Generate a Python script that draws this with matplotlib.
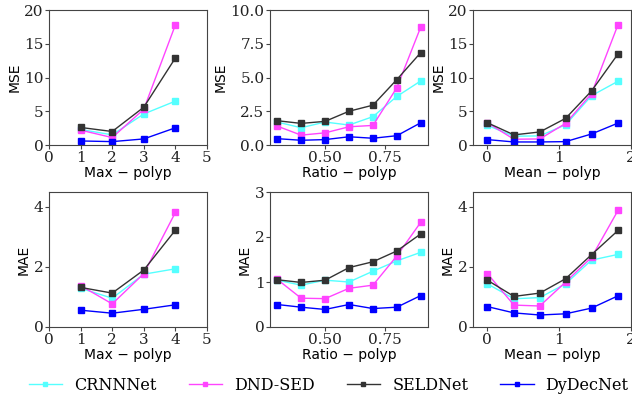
import matplotlib.pyplot as plt

# Data
max_x = [1, 2, 3, 4]
ratio_x = [0.3, 0.4, 0.5, 0.6, 0.7, 0.8, 0.9]
mean_x = [0, 0.37, 0.73, 1.09, 1.45, 1.82]

names = ["CRNNNet", "DND-SED", "SELDNet", "DyDecNet"]
colors = ["#55ffff", "#ff44ff", "#333333", "#0000ff"]

mse_max = [
    [2.3, 1.5, 4.6, 6.5],
    [2.2, 1.1, 5.3, 17.8],
    [2.6, 2.0, 5.6, 12.9],
    [0.6, 0.5, 0.9, 2.55],
]
mse_ratio = [
    [1.7, 1.28, 1.7, 1.48, 2.1, 3.6, 4.75],
    [1.4, 0.73, 0.9, 1.35, 1.45, 4.25, 8.75],
    [1.8, 1.6, 1.75, 2.5, 2.95, 4.85, 6.85],
    [0.47, 0.35, 0.4, 0.61, 0.5, 0.69, 1.65],
]
mse_mean = [
    [2.9, 1.3, 1.35, 3.0, 7.3, 9.45],
    [3.3, 0.85, 0.9, 3.2, 7.6, 17.85],
    [3.3, 1.5, 1.93, 3.95, 8.0, 13.5],
    [0.8, 0.45, 0.45, 0.5, 1.63, 3.25],
]
mae_max = [
    [1.29, 0.96, 1.76, 1.94],
    [1.38, 0.77, 1.78, 3.82],
    [1.32, 1.13, 1.9, 3.23],
    [0.56, 0.46, 0.59, 0.74],
]
mae_ratio = [
    [1.04, 0.93, 1.04, 1.0, 1.24, 1.47, 1.66],
    [1.06, 0.64, 0.63, 0.86, 0.93, 1.58, 2.33],
    [1.05, 0.99, 1.04, 1.32, 1.45, 1.69, 2.07],
    [0.5, 0.44, 0.39, 0.5, 0.41, 0.44, 0.70],
]
mae_mean = [
    [1.44, 0.94, 0.98, 1.44, 2.23, 2.42],
    [1.78, 0.73, 0.70, 1.5, 2.32, 3.89],
    [1.56, 1.02, 1.13, 1.61, 2.41, 3.22],
    [0.68, 0.47, 0.40, 0.44, 0.63, 1.04],
]

fig = plt.figure(figsize=(6.32, 4.0), dpi=100)

# axes positions in figure fractions
lefts = [49 / 632, 270 / 632, 473 / 632]
width = 158 / 632
tops = [10 / 400, 192 / 400]
height = 135 / 400

panels = [
    (0, 0, max_x, mse_max, "Max − polyp", "MSE"),
    (0, 1, ratio_x, mse_ratio, "Ratio − polyp", "MSE"),
    (0, 2, mean_x, mse_mean, "Mean − polyp", "MSE"),
    (1, 0, max_x, mae_max, "Max − polyp", "MAE"),
    (1, 1, ratio_x, mae_ratio, "Ratio − polyp", "MAE"),
    (1, 2, mean_x, mae_mean, "Mean − polyp", "MAE"),
]

ylims = {(0, 0): (0, 20), (0, 1): (0, 10), (0, 2): (0, 20),
         (1, 0): (0, 4.5), (1, 1): (0, 3), (1, 2): (0, 4.5)}
yticks = {(0, 0): [0, 5, 10, 15, 20], (0, 1): [0, 2.5, 5, 7.5, 10],
          (0, 2): [0, 5, 10, 15, 20], (1, 0): [0, 2, 4], (1, 1): [0, 1, 2, 3],
          (1, 2): [0, 2, 4]}

lines = []
for r, c, xs, data, xl, yl in panels:
    ax = fig.add_axes([lefts[c], 1 - tops[r] - height, width, height])
    for i, ys in enumerate(data):
        ln, = ax.plot(xs, ys, marker='s', markersize=4, linewidth=1,
                      color=colors[i], label=names[i])
        if r == 0 and c == 0:
            lines.append(ln)
    ax.set_ylim(*ylims[(r, c)])
    ax.set_yticks(yticks[(r, c)])
    if c == 0:
        ax.set_xlim(0, 5)
        ax.set_xticks([0, 1, 2, 3, 4, 5])
    elif c == 1:
        ax.set_xlim(0.27, 0.93)
        ax.set_xticks([0.5, 0.75])
        ax.set_xticklabels(["0.50", "0.75"])
    else:
        ax.set_xlim(-0.2, 2)
        ax.set_xticks([0, 1, 2])
    if (r, c) == (0, 1):
        ax.set_yticklabels(["0.0", "2.5", "5.0", "7.5", "10.0"])
    for lab in ax.get_xticklabels() + ax.get_yticklabels():
        lab.set_family("DejaVu Serif")
        lab.set_fontsize(11)
        lab.set_color("#222222")
    for sp in ax.spines.values():
        sp.set_color("#444444")
    ax.tick_params(length=3, pad=1, color="#444444")
    ax.set_xlabel(xl, fontsize=10, labelpad=1)
    ax.set_ylabel(yl, fontsize=10, labelpad=2)

fig.legend(lines, names, loc='center', bbox_to_anchor=(0.52, 15 / 400),
           ncol=4, frameon=False, prop={'family': 'DejaVu Serif', 'size': 11.5},
           markerscale=0.6, handlelength=2.1, handletextpad=0.75,
           columnspacing=2.0)

fig.savefig("out.png", dpi=100)
